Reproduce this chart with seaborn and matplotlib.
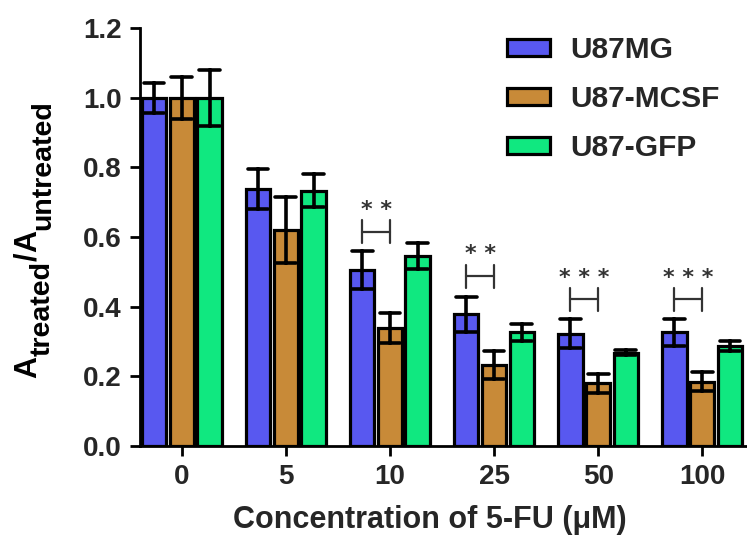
import numpy as np
import pandas as pd
import matplotlib
matplotlib.use("Agg")
import matplotlib.pyplot as plt
from matplotlib.transforms import IdentityTransform
import seaborn as sns

# ---- data ----
concentrations = ["0", "5", "10", "25", "50", "100"]
lines = ["U87MG", "U87-MCSF", "U87-GFP"]
mean_u87mg = [1.00, 0.737, 0.505, 0.378, 0.323, 0.326]
err_u87mg = [0.043, 0.057, 0.055, 0.050, 0.042, 0.039]
mean_mcsf = [1.00, 0.620, 0.340, 0.233, 0.180, 0.185]
err_mcsf = [0.060, 0.095, 0.043, 0.040, 0.027, 0.028]
mean_gfp = [1.00, 0.733, 0.545, 0.326, 0.268, 0.288]
err_gfp = [0.080, 0.048, 0.038, 0.025, 0.008, 0.015]
colors = ["#5858F0", "#C88A38", "#10E880"]

sig_groups = ["10", "25", "50", "100"]
sig_labels = ["**", "**", "***", "***"]
sig_heights = [0.615, 0.488, 0.421, 0.421]

ytick_values = [0.0, 0.2, 0.4, 0.6, 0.8, 1.0, 1.2]
ytick_labels = ["0.0", "0.2", "0.4", "0.6", "0.8", "1.0", "1.2"]
xlabel = "Concentration of 5-FU (μM)"
# y label pieces: (text, is_subscript)
ylabel_parts = [("A", False), ("treated", True), ("/", False),
                ("A", False), ("untreated", True)]

# ---- table: low/high rows, mean of them is the bar, range is the error bar ----
rows = []
for line, means, errs in zip(lines, [mean_u87mg, mean_mcsf, mean_gfp],
                             [err_u87mg, err_mcsf, err_gfp]):
    for c, m, e in zip(concentrations, means, errs):
        rows.append({"conc": c, "line": line, "value": m - e})
        rows.append({"conc": c, "line": line, "value": m + e})
df = pd.DataFrame(rows)

sns.set_theme(style="ticks")
plt.rcParams["font.family"] = ["Liberation Sans", "DejaVu Sans"]
plt.rcParams["font.weight"] = "bold"

fig = plt.figure(figsize=(7.47, 5.40), dpi=100)
ax = fig.add_axes([0.187, 0.174, 0.813, 0.774])

sns.barplot(data=df, x="conc", y="value", hue="line", order=concentrations,
            hue_order=lines, palette=colors, estimator="mean",
            errorbar=lambda x: (x.min(), x.max()), capsize=0.6,
            err_kws={"color": "black", "linewidth": 2.6},
            width=0.8, gap=0.12, edgecolor="black", linewidth=2.3,
            saturation=1, ax=ax)

# significance brackets between U87MG and U87-MCSF
bars_mg = ax.containers[0]
bars_mcsf = ax.containers[1]
for g, lab, h in zip(sig_groups, sig_labels, sig_heights):
    i = concentrations.index(g)
    p1, p2 = bars_mg[i], bars_mcsf[i]
    x1 = p1.get_x() + p1.get_width() / 2
    x2 = p2.get_x() + p2.get_width() / 2
    ax.plot([x1, x2], [h, h], color="#333333", lw=1.6)
    ax.plot([x1, x1], [h - 0.033, h + 0.033], color="#333333", lw=1.6)
    ax.plot([x2, x2], [h - 0.033, h + 0.033], color="#333333", lw=1.6)
    ax.text((x1 + x2) / 2, h + 0.062, " ".join(lab), ha="center", va="center",
            fontsize=16, color="#333333", family="DejaVu Sans")

ax.set_ylim(0, 1.2)
ax.set_xlim(-0.404, 5.43)
ax.set_yticks(ytick_values)
ax.set_yticklabels(ytick_labels)
ax.tick_params(axis="both", labelsize=20, width=2, length=7, color="black",
               direction="out", pad=6)
for lab in ax.get_xticklabels() + ax.get_yticklabels():
    lab.set_fontweight("bold")

sns.despine(ax=ax)
for s in ["left", "bottom"]:
    ax.spines[s].set_linewidth(2)
    ax.spines[s].set_color("black")

ax.set_xlabel(xlabel, fontsize=22, fontweight="bold", labelpad=11)
ax.xaxis.label.set_x(0.478)
ax.set_ylabel("")

leg = ax.legend(loc="upper left", bbox_to_anchor=(0.6, 0.988), frameon=False,
                fontsize=21.5, handlelength=1.45, handleheight=0.48,
                labelspacing=0.7, handletextpad=0.65, borderpad=0.1,
                borderaxespad=0)
for t in leg.get_texts():
    t.set_fontweight("bold")
for hnd in leg.legend_handles:
    hnd.set_edgecolor("black")
    hnd.set_linewidth(2.3)

# ---- y label built from pieces (rotated, with lowered subscripts) ----
fig.canvas.draw()
renderer = fig.canvas.get_renderer()
main_size, sub_size = 22, 20.5
base_x, sub_shift = 36, 14          # display pixels
pieces = []
for txt, is_sub in ylabel_parts:
    t = fig.text(0, 0, txt, rotation=90, rotation_mode="anchor",
                 ha="left", va="baseline", fontweight="bold",
                 fontsize=sub_size if is_sub else main_size,
                 transform=IdentityTransform(), color="black")
    pieces.append((t, is_sub))
lengths = [t.get_window_extent(renderer).height for t, _ in pieces]
total = sum(lengths)
center_y = 540 - 239
y = center_y - total / 2
for (t, is_sub), L in zip(pieces, lengths):
    t.set_position((base_x + (sub_shift if is_sub else 0), y))
    y += L

fig.savefig("out.png", dpi=100)
